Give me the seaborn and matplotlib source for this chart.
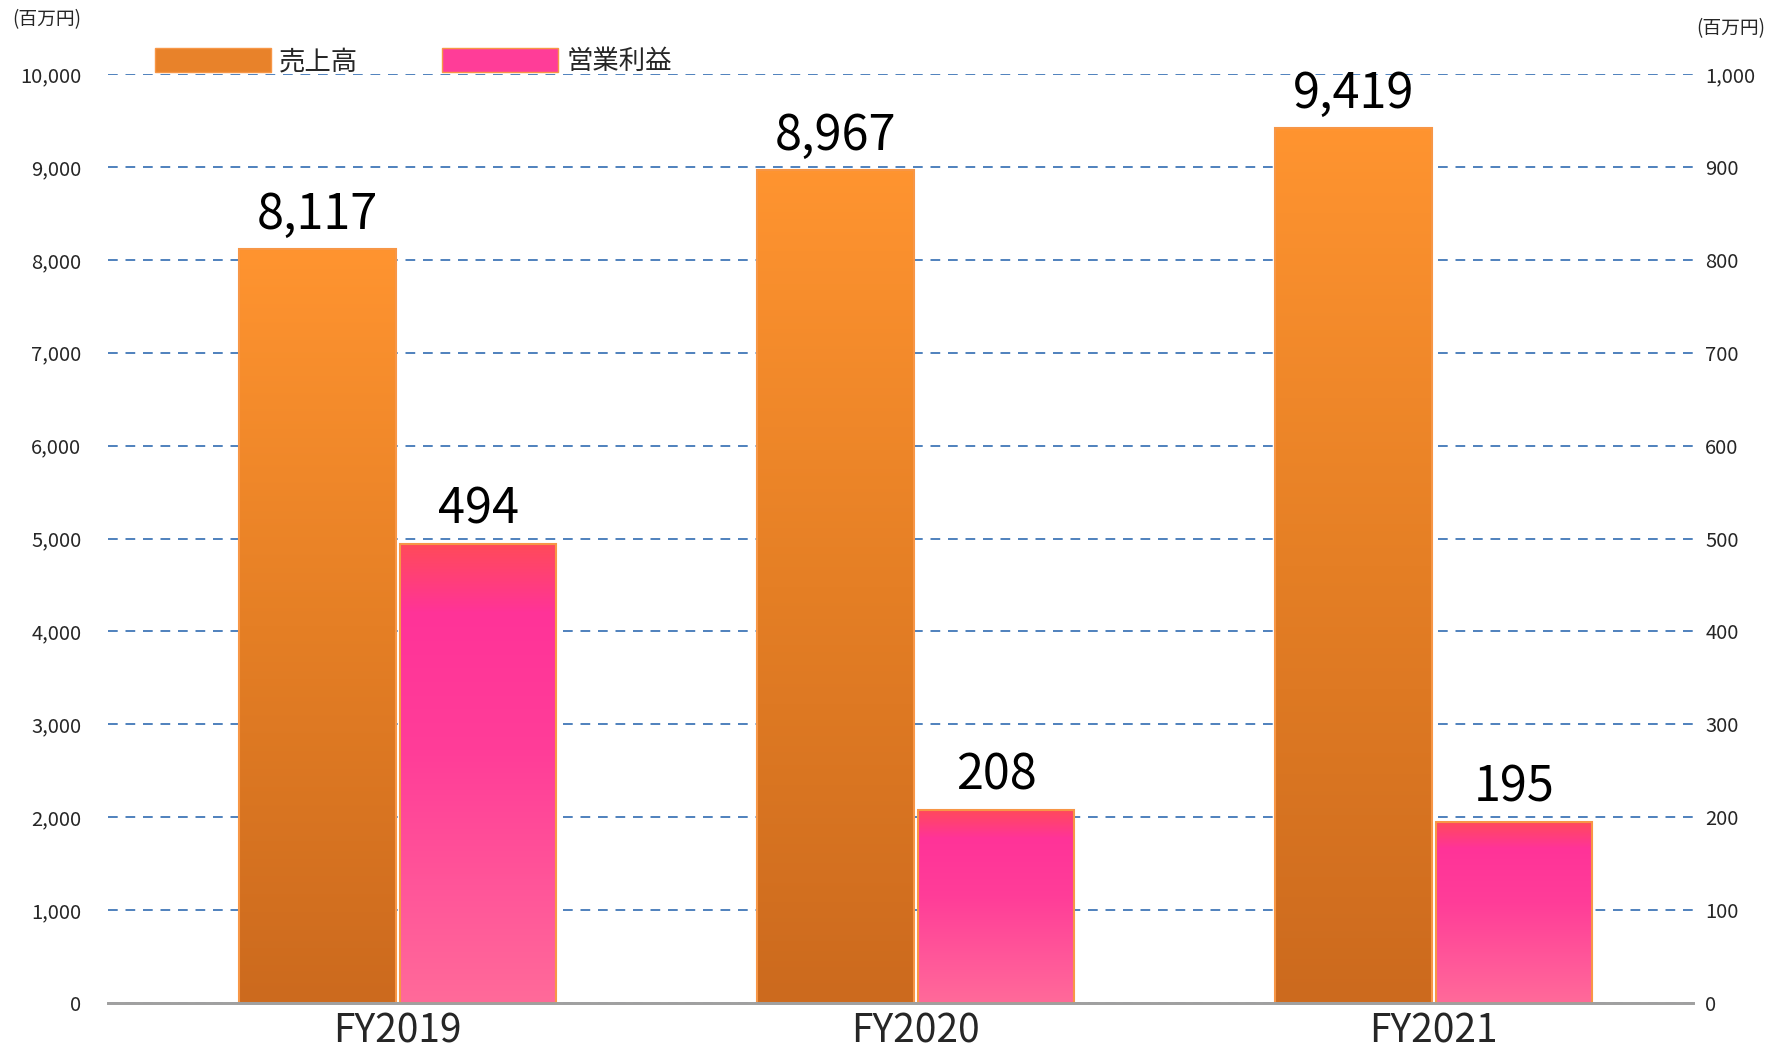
import matplotlib
matplotlib.use("Agg")
import matplotlib.pyplot as plt
import numpy as np
import pandas as pd
import seaborn as sns
from matplotlib.colors import LinearSegmentedColormap
from matplotlib.patches import Patch

years = ["FY2019", "FY2020", "FY2021"]
sales = [8117, 8967, 9419]
profit = [494, 208, 195]
series = ["売上高", "営業利益"]
left_ticks = list(range(0, 10001, 1000))
right_ticks = list(range(0, 1001, 100))

sns.set_theme(style="white")
plt.rcParams["font.family"] = ["Noto Sans CJK JP", "DejaVu Sans"]

orange_cmap = LinearSegmentedColormap.from_list("orange", ["#CC6A1E", "#E57F25", "#FF9430"])
pink_cmap = LinearSegmentedColormap.from_list(
    "pink", [(0.0, "#FF6A9A"), (0.55, "#FF3D98"), (0.85, "#FF3399"), (1.0, "#FF4A5A")])

df_sales = pd.DataFrame({"year": years, "value": sales, "series": series[0]})
df_profit = pd.DataFrame({"year": years, "value": profit, "series": series[1]})

fig = plt.figure(figsize=(17.67, 10.59), dpi=100)
ax = fig.add_axes([0.061, 0.053, 0.897, 0.877])
ax2 = ax.twinx()

sns.barplot(data=df_sales, x="year", y="value", hue="series", hue_order=series,
            order=years, width=0.62, dodge=True, ax=ax, legend=False,
            edgecolor="#F79646", linewidth=1.5)
sns.barplot(data=df_profit, x="year", y="value", hue="series", hue_order=series,
            order=years, width=0.62, dodge=True, ax=ax2, legend=False,
            edgecolor="#F79646", linewidth=1.5)


def gradient_bars(axis, cmap):
    grad = np.linspace(0, 1, 256).reshape(-1, 1)
    for p in list(axis.patches):
        h = p.get_height()
        if not np.isfinite(h) or h <= 0:
            continue
        x0 = p.get_x() + 0.004
        w = p.get_width() - 0.008
        p.set_x(x0)
        p.set_width(w)
        p.set_facecolor("none")
        im = axis.imshow(grad, cmap=cmap, origin="lower", aspect="auto",
                         extent=(x0, x0 + w, 0, h), zorder=p.get_zorder() - 0.1)
        im.set_clip_path(p)


gradient_bars(ax, orange_cmap)
gradient_bars(ax2, pink_cmap)

ax.set_xlim(-0.56, 2.5)
ax.set_ylim(0, 10000)
ax2.set_ylim(0, 1000)
ax.set_yticks(left_ticks)
ax.set_yticklabels([f"{v:,}" for v in left_ticks])
ax2.set_yticks(right_ticks)
ax2.set_yticklabels([f"{v:,}" for v in right_ticks])

ax.set_axisbelow(True)
ax.yaxis.grid(True, color="#4F81BD", linestyle=(0, (5, 4)), linewidth=1.4)
ax.xaxis.grid(False)
ax2.grid(False)

for a in (ax, ax2):
    for s in ("top", "left", "right"):
        a.spines[s].set_visible(False)
    a.spines["bottom"].set_color("#A0A0A0")
    a.spines["bottom"].set_linewidth(2)
    a.set_xlabel("")
    a.set_ylabel("")
    a.tick_params(axis="both", length=0)

ax.tick_params(axis="y", labelsize=14.5, pad=19)
ax2.tick_params(axis="y", labelsize=14.5, pad=9)
ax.tick_params(axis="x", labelsize=28, pad=6)

# value labels
for p, v in zip([p for p in ax.patches if p.get_height() > 0], sales):
    ax.text(p.get_x() + p.get_width() / 2, p.get_height() + 100, f"{v:,}",
            ha="center", va="bottom", fontsize=35, color="black")
for p, v in zip([p for p in ax2.patches if p.get_height() > 0], profit):
    ax2.text(p.get_x() + p.get_width() / 2, p.get_height() + 10, f"{v:,}",
             ha="center", va="bottom", fontsize=35, color="black")

fig.text(0.007, 0.981, "(百万円)", ha="left", va="center", fontsize=13.5)
fig.text(0.999, 0.973, "(百万円)", ha="right", va="center", fontsize=13.5)

handles = [Patch(facecolor="#E8822A", edgecolor="#F79646"),
           Patch(facecolor="#FF3D98", edgecolor="#F79646")]
fig.legend(handles, series, loc="center left", bbox_to_anchor=(0.074, 0.942),
           ncol=2, frameon=False, fontsize=19, handlelength=4.4, handleheight=1.05,
           columnspacing=3.2, handletextpad=0.3)

fig.savefig("out.png", dpi=100)
